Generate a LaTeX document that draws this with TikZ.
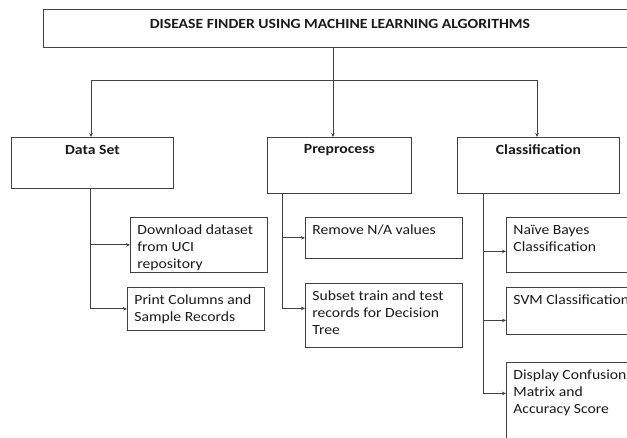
\documentclass[tikz,border=0pt]{standalone}
\usepackage{fontspec}
\setmainfont{Carlito}[FakeStretch=1.12]
\usetikzlibrary{arrows.meta,positioning}

\newcommand{\boxlines}[3]{\parbox[t][#1pt][t]{#2pt}{\raggedright #3}}
\newcommand{\boxhead}[3]{\parbox[t][#1pt][t]{#2pt}{\centering\bfseries #3}}

\tikzset{
  stepbox/.style={draw=black!75, line width=0.8pt, anchor=north west,
    inner xsep=7pt, inner ysep=7.5pt, text=black!90,
    font=\fontsize{14}{17}\selectfont},
  wire/.style={draw=black!75, line width=0.8pt},
  link/.style={wire, -{Stealth[length=4pt,width=3.5pt]}},
}

\begin{document}
\begin{tikzpicture}[x=1pt, y=-1pt]
  \useasboundingbox (0,0) rectangle (627,438);
  \clip (0,0) rectangle (627,438);

  % top
  \node[stepbox, inner ysep=10pt] (title) at (43,9)
    {\parbox[t][18pt][t]{680pt}{\makebox[579pt]{\bfseries DISEASE FINDER USING MACHINE LEARNING ALGORITHMS}}};

  % second row
  \node[stepbox] (ds)  at (11,137)  {\boxhead{36}{148}{Data Set}};
  \node[stepbox] (pre) at (267,137) {\boxhead{41}{130}{Preprocess}};
  \node[stepbox] (cls) at (457,137) {\boxhead{41}{148}{Classification}};

  % leaves
  \node[stepbox] (dl)   at (130,217) {\boxlines{40}{123}{Download dataset\\from UCI\\repository}};
  \node[stepbox] (pr)   at (127,287) {\boxlines{28}{123}{Print Columns and\\Sample Records}};
  \node[stepbox] (rm)   at (305,217) {\boxlines{26}{143}{Remove N/A values}};
  \node[stepbox] (sub)  at (305,283) {\boxlines{49}{143}{Subset train and test\\records for Decision\\Tree}};
  \node[stepbox] (nb)   at (506,217) {\boxlines{40}{107}{Naïve Bayes\\Classification}};
  \node[stepbox] (svm)  at (506,287) {\boxlines{32}{186}{SVM Classification}};
  \node[stepbox] (disp) at (506,362) {\boxlines{85}{186}{Display Confusion\\Matrix and\\Accuracy Score}};

  % fan out
  \coordinate (hub) at (333,80);
  \coordinate (dsin) at (91,80);
  \coordinate (clsin) at (537,80);
  \draw[wire] (title.south -| hub) -- (hub);
  \draw[wire] (dsin) -- (clsin);
  \draw[link] (dsin) -- (dsin |- ds.north);
  \draw[link] (hub) -- (hub |- pre.north);
  \draw[link] (clsin) -- (clsin |- cls.north);

  % branches
  \coordinate (dsbus) at (90,0);
  \coordinate (prebus) at (282,0);
  \coordinate (clsbus) at (483,0);
  \draw[link] (dsbus |- ds.south) |- (dl.west);
  \draw[link] (dsbus |- ds.south) |- (pr.west);
  \draw[link] (prebus |- pre.south) |- (rm.west);
  \draw[link] (prebus |- pre.south) |- ([yshift=7pt]sub.west);
  \draw[link] (clsbus |- cls.south) |- ([yshift=-6.5pt]nb.west);
  \draw[link] (clsbus |- cls.south) |- ([yshift=-9.5pt]svm.west);
  \draw[link] (clsbus |- cls.south) |- ([yshift=19pt]disp.west);
\end{tikzpicture}
\end{document}
